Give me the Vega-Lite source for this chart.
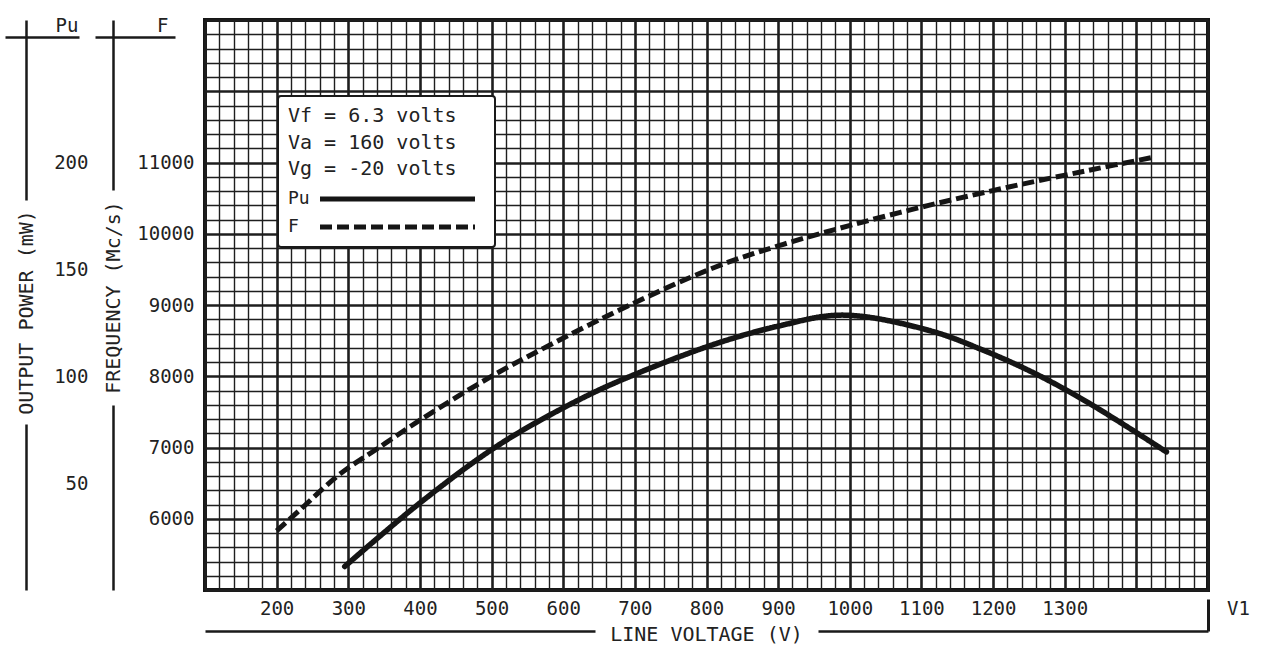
{
  "$schema": "https://vega.github.io/schema/vega-lite/v6.json",
  "width": 1003,
  "height": 570,
  "autosize": {"type": "none"},
  "padding": {"left": 205, "top": 20, "right": 65, "bottom": 55},
  "background": "white",
  "config": {
    "view": {"stroke": "#151515", "strokeWidth": 4},
    "font": "DejaVu Sans Mono",
    "axis": {
      "labelFont": "DejaVu Sans Mono",
      "titleFont": "DejaVu Sans Mono",
      "labelFontSize": 19,
      "titleFontSize": 20,
      "titleFontWeight": "normal",
      "labelColor": "#222222",
      "titleColor": "#222222"
    },
    "legend": {"strokeWidth": 2}
  },
  "datasets": {
    "frequency": [
      {"V": 200, "F": 5830},
      {"V": 231, "F": 6110},
      {"V": 289, "F": 6633},
      {"V": 341, "F": 6986},
      {"V": 401, "F": 7390},
      {"V": 498, "F": 7988},
      {"V": 587, "F": 8468},
      {"V": 692, "F": 8995},
      {"V": 811, "F": 9527},
      {"V": 901, "F": 9833},
      {"V": 998, "F": 10110},
      {"V": 1110, "F": 10398},
      {"V": 1222, "F": 10656},
      {"V": 1334, "F": 10892},
      {"V": 1427, "F": 11080}
    ],
    "power": [
      {"V": 295, "Pu": 11},
      {"V": 401, "Pu": 41},
      {"V": 513, "Pu": 68.5},
      {"V": 625, "Pu": 89.5},
      {"V": 696, "Pu": 100.3},
      {"V": 811, "Pu": 115},
      {"V": 901, "Pu": 123.5},
      {"V": 990, "Pu": 128.6},
      {"V": 1110, "Pu": 121.5},
      {"V": 1184, "Pu": 112.5},
      {"V": 1259, "Pu": 101.2},
      {"V": 1334, "Pu": 87.4},
      {"V": 1442, "Pu": 64.6}
    ]
  },
  "encoding": {
    "x": {
      "field": "V",
      "type": "quantitative",
      "scale": {"domain": [100, 1500], "nice": false, "zero": false},
      "axis": {
        "orient": "bottom",
        "offset": 41,
        "values": [100,120,140,160,180,200,220,240,260,280,300,320,340,360,380,400,420,440,460,480,500,520,540,560,580,600,620,640,660,680,700,720,740,760,780,800,820,840,860,880,900,920,940,960,980,1000,1020,1040,1060,1080,1100,1120,1140,1160,1180,1200,1220,1240,1260,1280,1300,1320,1340,1360,1380,1400,1420,1440,1460,1480,1500],
        "grid": true,
        "gridColor": "#1e1e1e",
        "gridOpacity": 1,
        "gridWidth": {"condition": {"test": "datum.value % 100 == 0", "value": 2.6}, "value": 1.4},
        "ticks": true,
        "tickSize": -32,
        "tickWidth": 3,
        "tickColor": {"condition": {"test": "datum.value == 1500", "value": "#1a1a1a"}, "value": "transparent"},
        "domain": true,
        "domainColor": "#1a1a1a",
        "domainWidth": 2.5,
        "domainDash": [390, 223, 3000],
        "format": "d",
        "labelExpr": "datum.value == 1500 ? 'V1' : ((datum.value % 100 == 0 && datum.value >= 200 && datum.value <= 1300) ? datum.label : '')",
        "labelBaseline": "middle",
        "labelAlign": "center",
        "labelPadding": 9,
        "labelOffset": {"condition": {"test": "datum.value == 1500", "value": 30}, "value": 0},
        "labelOverlap": false,
        "labelFlush": false,
        "labelBound": false,
        "title": "LINE VOLTAGE (V)",
        "titleX": 501,
        "titleY": 3,
        "titleAngle": 0,
        "titleAlign": "center",
        "titleBaseline": "middle"
      }
    }
  },
  "layer": [
    {
      "data": {"name": "frequency"},
      "mark": {"type": "line", "interpolate": "catmull-rom", "color": "#151515", "strokeWidth": 5, "strokeCap": "butt"},
      "encoding": {
        "y": {
          "field": "F",
          "type": "quantitative",
          "scale": {"domain": [5000, 13000], "nice": false, "zero": false},
          "axis": {
            "orient": "left",
            "offset": 92,
            "values": [5000,5200,5400,5600,5800,6000,6200,6400,6600,6800,7000,7200,7400,7600,7800,8000,8200,8400,8600,8800,9000,9200,9400,9600,9800,10000,10200,10400,10600,10800,11000,11200,11400,11600,11800,12000,12200,12400,12600,12800,13000,12760,12761],
            "grid": true,
            "gridColor": "#1e1e1e",
            "gridWidth": {"condition": {"test": "datum.value % 1000 == 0", "value": 2.6}, "value": 1.4},
            "gridOpacity": {"condition": {"test": "datum.value > 12700 && datum.value < 12790", "value": 0}, "value": 1},
            "ticks": true,
            "tickWidth": 2.5,
            "tickColor": {"condition": {"test": "datum.value > 12700 && datum.value < 12790", "value": "#1a1a1a"}, "value": "transparent"},
            "tickSize": {"condition": {"test": "datum.value == 12760", "value": 18}, "value": -62},
            "domain": true,
            "domainColor": "#1a1a1a",
            "domainWidth": 2.5,
            "domainDash": [185, 215, 3000],
            "format": "d",
            "labelExpr": "datum.value == 13000 ? 'F' : ((datum.value % 1000 == 0 && datum.value >= 6000 && datum.value <= 11000) ? datum.label : '')",
            "labelAlign": "right",
            "labelBaseline": "middle",
            "labelPadding": {"condition": {"test": "datum.value == 13000", "value": 7}, "value": -19},
            "labelOffset": {"condition": {"test": "datum.value == 13000", "value": 5}, "value": 0},
            "labelOverlap": false,
            "labelFlush": false,
            "labelBound": false,
            "title": "FREQUENCY (Mc/s)",
            "titleX": 0,
            "titleY": 277,
            "titleAngle": -90,
            "titleAlign": "center",
            "titleBaseline": "middle"
          }
        },
        "strokeDash": {
          "datum": "F",
          "type": "nominal",
          "scale": {"domain": ["Pu", "F"], "range": [[1, 0], [12, 5]]},
          "legend": {
            "orient": "none",
            "legendX": 73,
            "legendY": 76,
            "title": ["Vf = 6.3 volts", "Va = 160 volts", "Vg = -20 volts"],
            "titleFont": "DejaVu Sans Mono",
            "titleFontSize": 20,
            "titleFontWeight": "normal",
            "titleLineHeight": 26.5,
            "titlePadding": 11,
            "titleColor": "#222222",
            "labelFont": "DejaVu Sans Mono",
            "labelFontSize": 18,
            "labelColor": "#222222",
            "symbolType": "M0,0H31",
            "symbolSize": 100,
            "symbolStrokeWidth": 5,
            "symbolStrokeColor": "#1a1a1a",
            "symbolFillColor": "transparent",
            "symbolOffset": 23,
            "labelOffset": -41,
            "rowPadding": 8,
            "fillColor": "white",
            "strokeColor": "#1a1a1a",
            "cornerRadius": 3,
            "padding": 10
          }
        }
      }
    },
    {
      "data": {"name": "power"},
      "mark": {"type": "line", "interpolate": "catmull-rom", "color": "#151515", "strokeWidth": 5.5, "strokeCap": "round"},
      "encoding": {
        "y": {
          "field": "Pu",
          "type": "quantitative",
          "scale": {"domain": [0, 266.67], "nice": false, "zero": false},
          "axis": {
            "orient": "left",
            "offset": 179,
            "values": [50, 100, 150, 200, 258.7, 258.71, 266.67],
            "grid": false,
            "ticks": true,
            "tickWidth": 2.5,
            "tickColor": {"condition": {"test": "datum.value > 258 && datum.value < 259", "value": "#1a1a1a"}, "value": "transparent"},
            "tickSize": {"condition": {"test": "datum.value == 258.7", "value": 21}, "value": -53},
            "domain": true,
            "domainColor": "#1a1a1a",
            "domainWidth": 2.5,
            "domainDash": [166, 224, 3000],
            "format": "d",
            "labelExpr": "datum.value > 266 ? 'Pu' : (datum.value <= 200 ? datum.label : '')",
            "labelAlign": "right",
            "labelBaseline": "middle",
            "labelPadding": {"condition": {"test": "datum.value > 266", "value": 1}, "value": -9},
            "labelOffset": {"condition": {"test": "datum.value > 266", "value": 5}, "value": 0},
            "labelOverlap": false,
            "labelFlush": false,
            "labelBound": false,
            "title": "OUTPUT POWER (mW)",
            "titleX": 0,
            "titleY": 292,
            "titleAngle": -90,
            "titleAlign": "center",
            "titleBaseline": "middle"
          }
        },
        "strokeDash": {"datum": "Pu", "type": "nominal"}
      }
    }
  ],
  "resolve": {"scale": {"y": "independent"}}
}
